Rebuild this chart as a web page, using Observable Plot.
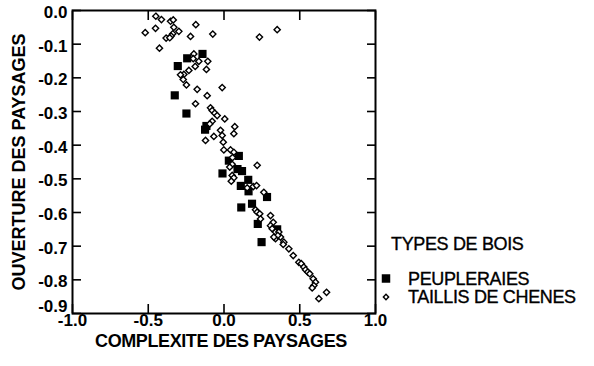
<!DOCTYPE html>
<html><head><meta charset="utf-8">
<script src="https://cdn.jsdelivr.net/npm/d3@7"></script>
<script src="https://cdn.jsdelivr.net/npm/@observablehq/plot@0.6"></script>
<style>
body{margin:0;background:#fff;}
#wrap{position:relative;width:594px;height:366px;font-family:"Liberation Sans",Arial,sans-serif;}
#legend{position:absolute;left:375px;top:0;}
</style></head><body><div id="wrap"></div>
<script>
// Series: PEUPLERAIES (filled squares)
const peupX = [-0.142,-0.243,-0.305,-0.325,-0.248,-0.116,-0.125,0.098,0.032,0.089,0.119,-0.010,0.160,0.111,0.162,0.284,0.114,0.185,0.223,0.351,0.248];
const peupY = [-0.129,-0.142,-0.165,-0.252,-0.306,-0.343,-0.354,-0.432,-0.446,-0.471,-0.477,-0.484,-0.503,-0.521,-0.537,-0.554,-0.585,-0.574,-0.634,-0.650,-0.688];
// Series: TAILLIS DE CHENES (hollow diamonds)
const taillisX = [-0.450,-0.413,-0.353,-0.335,-0.520,-0.452,-0.331,-0.298,-0.338,-0.349,-0.382,-0.358,-0.186,-0.221,-0.074,0.234,0.351,-0.426,
 -0.199,-0.203,-0.166,-0.190,-0.107,-0.116,-0.232,-0.265,-0.287,-0.269,-0.248,-0.177,-0.012,-0.111,-0.188,-0.089,-0.078,-0.061,-0.045,0.005,-0.078,-0.094,0.071,-0.023,-0.012,-0.067,-0.122,-0.005,0.065,-0.001,0.043,0.065,0.056,0.054,0.038,0.219,0.054,0.065,0.048,0.153,0.193,0.215,0.263,0.208,0.219,0.236,0.241,0.307,0.325,0.307,0.318,0.340,0.362,0.340,0.373,0.355,0.329,0.395,0.391,0.428,0.457,0.494,0.510,0.527,0.538,0.553,0.566,0.589,0.604,0.593,0.582,0.677,0.626];
const taillisY = [-0.017,-0.027,-0.032,-0.028,-0.066,-0.053,-0.050,-0.062,-0.069,-0.076,-0.082,-0.081,-0.042,-0.077,-0.070,-0.079,-0.057,-0.112,
 -0.129,-0.143,-0.151,-0.166,-0.151,-0.175,-0.178,-0.190,-0.191,-0.205,-0.221,-0.234,-0.229,-0.253,-0.277,-0.289,-0.297,-0.305,-0.312,-0.322,-0.329,-0.337,-0.345,-0.356,-0.371,-0.374,-0.386,-0.391,-0.366,-0.414,-0.414,-0.421,-0.437,-0.457,-0.465,-0.460,-0.490,-0.497,-0.507,-0.527,-0.523,-0.520,-0.540,-0.592,-0.599,-0.604,-0.619,-0.609,-0.629,-0.639,-0.648,-0.658,-0.658,-0.678,-0.673,-0.668,-0.673,-0.688,-0.695,-0.708,-0.728,-0.748,-0.752,-0.762,-0.770,-0.777,-0.782,-0.797,-0.807,-0.817,-0.824,-0.837,-0.856];
const xTicks = [-1, -0.5, 0, 0.5, 1];
const yTicks = [0, -0.1, -0.2, -0.3, -0.4, -0.5, -0.6, -0.7, -0.8, -0.9];
const xTitle = "COMPLEXITE DES PAYSAGES";
const yTitle = "OUVERTURE DES PAYSAGES";
const legendTitle = "TYPES DE BOIS";
const seriesNames = ["PEUPLERAIES", "TAILLIS DE CHENES"];

const peup = peupX.map((x, i) => ({x, y: peupY[i]}));
const taillis = taillisX.map((x, i) => ({x, y: taillisY[i]}));
const fmt = d => (Math.abs(d) < 1e-9 ? 0 : d).toFixed(1);
const blank = () => "";
const yMin = d3.min(yTicks);

const chart = Plot.plot({
  width: 594, height: 366,
  marginLeft: 72, marginRight: 219, marginTop: 10, marginBottom: 53,
  style: {fontFamily: "'Liberation Sans', Arial, sans-serif", fontSize: "17px", fontWeight: "bold", color: "#000", background: "#fff", overflow: "visible"},
  x: {domain: [-1, 1], label: null},
  y: {domain: [-0.9, 0], label: null},
  marks: [
    Plot.dot(peup, {x: "x", y: "y", symbol: "square", r: 4.6, fill: "#000", stroke: "none"}),
    Plot.dot(taillis, {x: "x", y: "y", symbol: "diamond2", r: 2.8, fill: "#fff", stroke: "#000", strokeWidth: 1.4}),
    Plot.axisX(xTicks, {anchor: "bottom", tickSize: 0, tickPadding: 0, tickFormat: fmt}),
    Plot.axisX(xTicks, {anchor: "bottom", tickSize: -9, tickFormat: blank, strokeWidth: 1.6}),
    Plot.axisX(xTicks, {anchor: "top", tickSize: -9, tickFormat: blank, strokeWidth: 1.6}),
    Plot.axisY(yTicks.filter(d => d !== yMin), {anchor: "left", tickSize: 0, tickPadding: 5, dy: 2, tickFormat: fmt}),
    Plot.axisY(yTicks.filter(d => d === yMin), {anchor: "left", tickSize: 0, tickPadding: 5, dy: -7, tickFormat: fmt}),
    Plot.axisY(yTicks, {anchor: "left", tickSize: -9, tickFormat: blank, strokeWidth: 1.6}),
    Plot.axisY(yTicks, {anchor: "right", tickSize: -9, tickFormat: blank, strokeWidth: 1.6}),
    Plot.frame({stroke: "#000", strokeWidth: 2}),
    Plot.text([xTitle], {frameAnchor: "bottom", lineAnchor: "middle", textAnchor: "middle", dy: 28, dx: -3, fontSize: 18, fontWeight: "bold", text: d => d}),
    Plot.text([yTitle], {frameAnchor: "left", lineAnchor: "middle", textAnchor: "middle", dx: -53, rotate: -90, fontSize: 18, fontWeight: "bold", text: d => d})
  ]
});
// drop empty tick-only text elements
chart.querySelectorAll("text").forEach(t => { if (t.textContent === "") t.remove(); });
chart.querySelectorAll("text").forEach(t => { if (t.textContent === xTitle) t.style.letterSpacing = "-0.4px"; });
const wrap = document.getElementById("wrap");
wrap.appendChild(chart);

// Legend
const leg = d3.select(wrap).append("svg").attr("id", "legend").attr("width", 219).attr("height", 366)
  .style("font-family", "'Liberation Sans', Arial, sans-serif");
const txt = (x, y, s) => leg.append("text").attr("x", x).attr("y", y).attr("font-size", 18)
  .attr("fill", "#000").attr("stroke", "#000").attr("stroke-width", 0.35)
  .style("letter-spacing", "-0.35px").text(s);
txt(16, 250, legendTitle);
const rows = [284.5, 303];
seriesNames.forEach((name, i) => {
  const g = leg.append("g").attr("transform", `translate(11,${rows[i] - 6})`);
  if (i === 0) g.append("path").attr("d", d3.symbol(d3.symbolSquare, 72)()).attr("fill", "#000");
  else g.append("path").attr("d", d3.symbol(d3.symbolSquare, 14)()).attr("transform", "rotate(45)").attr("fill", "#fff").attr("stroke", "#000").attr("stroke-width", 1.4);
  txt(33, rows[i], name);
});
</script>
</body></html>
